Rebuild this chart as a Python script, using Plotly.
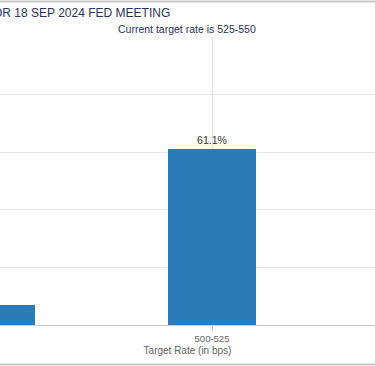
import plotly.graph_objects as go

categories = ["475-500", "500-525"]
probabilities = [6.9, 61.1]
labels = ["6.9%", "61.1%"]
title_text = "TARGET RATE PROBABILITIES FOR 18 SEP 2024 FED MEETING"
subtitle_text = "Current target rate is 525-550"
x_title = "Target Rate (in bps)"

W, H = 375, 366
ml, mr, mt, mb = 0, 0, 37, 41
plot_h = H - mt - mb
FONT = "Liberation Sans, Arial, sans-serif"

def px_x(p):
    return p / (W - ml - mr)

def px_y(p):
    return (H - mb - p) / plot_h

fig = go.Figure()
fig.add_trace(go.Bar(
    x=[0, 1], y=probabilities, width=0.4,
    marker=dict(color="#2b7bb9", line=dict(width=0)),
    text=labels, textposition="outside",
    textfont=dict(size=10.5, color="#333333", family=FONT),
    cliponaxis=False,
))

fig.update_layout(
    width=W, height=H,
    margin=dict(l=ml, r=mr, t=mt, b=mb),
    paper_bgcolor="white", plot_bgcolor="white",
    showlegend=False,
    font=dict(family=FONT, color="#666666"),
    xaxis=dict(
        range=[0.0407, 0.0407 + 375 / 221],
        tickmode="array", tickvals=[0, 1], ticktext=categories,
        showgrid=True, gridcolor="#e6e6e6", gridwidth=1,
        ticks="outside", ticklen=5, tickcolor="#cccccc",
        tickfont=dict(size=9.5, color="#666666"),
        showline=True, linecolor="#cccccc", linewidth=1,
        title=dict(text=x_title, font=dict(size=10, color="#666666"), standoff=3),
        zeroline=False,
    ),
    yaxis=dict(
        range=[0, 100], dtick=20,
        showgrid=True, gridcolor="#e6e6e6", gridwidth=1,
        showticklabels=False, zeroline=False,
    ),
    bargap=0,
)

fig.add_annotation(text=title_text, xref="paper", yref="paper",
                   x=px_x(172), y=px_y(13), xanchor="right", yanchor="middle",
                   showarrow=False, font=dict(size=12, color="#2a3460", family=FONT))
fig.add_annotation(text=subtitle_text, xref="paper", yref="paper",
                   x=px_x(187), y=px_y(29), xanchor="center", yanchor="middle",
                   showarrow=False, font=dict(size=10.5, color="#2a3460", family=FONT))

for yp in (1.5, 364.5):
    fig.add_shape(type="line", xref="paper", yref="paper", x0=-0.1, x1=1.1,
                  y0=px_y(yp), y1=px_y(yp), line=dict(color="#c8c8c8", width=2))

fig.write_html("out.html", config={"displayModeBar": False},
               post_script="document.body.style.margin='0';document.body.style.overflow='hidden';")
